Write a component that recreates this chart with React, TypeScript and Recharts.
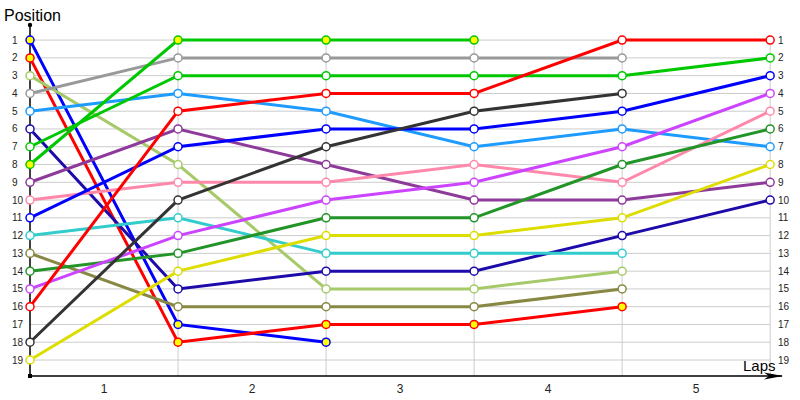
import { LineChart, Line, XAxis, YAxis, ReferenceLine } from "recharts";

// lap index (0 = grid)
const lapNumbers = [0, 1, 2, 3, 4, 5];
const lapTicks = [0.5, 1.5, 2.5, 3.5, 4.5];
const lapTickLabels = ["1", "2", "3", "4", "5"];
const positionTicks = [1, 2, 3, 4, 5, 6, 7, 8, 9, 10, 11, 12, 13, 14, 15, 16, 17, 18, 19];

// position per lap for each car (array ends where the car stops)
const blueEarly = [1, 17, 18];
const redEarly = [2, 18, 17, 17, 16];
const lightGreen = [3, 8, 15, 15, 14];
const gray = [4, 2, 2, 2, 2];
const skyBlue = [5, 4, 5, 7, 6, 7];
const navy = [6, 15, 14, 14, 12, 10];
const green = [7, 3, 3, 3, 3, 2];
const greenLeader = [8, 1, 1, 1];
const purple = [9, 6, 8, 10, 10, 9];
const pink = [10, 9, 9, 8, 9, 5];
const blue = [11, 7, 6, 6, 5, 3];
const cyan = [12, 11, 13, 13, 13];
const olive = [13, 16, 16, 16, 15];
const forest = [14, 13, 11, 11, 8, 6];
const violet = [15, 12, 10, 9, 7, 4];
const red = [16, 5, 4, 4, 1, 1];
const charcoal = [18, 10, 7, 5, 4];
const yellow = [19, 14, 12, 12, 11, 8];

// laps where the marker is filled yellow
const blueEarlyMarked = [0, 1, 2];
const redEarlyMarked = [0, 1, 2, 3, 4];
const greenLeaderMarked = [0, 1, 2, 3];

const series = [
  { key: "blueEarly", color: "#0000ff", values: blueEarly, marked: blueEarlyMarked },
  { key: "redEarly", color: "#ff0000", values: redEarly, marked: redEarlyMarked },
  { key: "lightGreen", color: "#a6ca6a", values: lightGreen, marked: [] },
  { key: "gray", color: "#999999", values: gray, marked: [] },
  { key: "skyBlue", color: "#1e9bff", values: skyBlue, marked: [] },
  { key: "navy", color: "#1c0aaa", values: navy, marked: [] },
  { key: "green", color: "#00c800", values: green, marked: [] },
  { key: "greenLeader", color: "#00c800", values: greenLeader, marked: greenLeaderMarked },
  { key: "purple", color: "#8e3a9a", values: purple, marked: [] },
  { key: "pink", color: "#ff88aa", values: pink, marked: [] },
  { key: "blue", color: "#0000ff", values: blue, marked: [] },
  { key: "cyan", color: "#33cccc", values: cyan, marked: [] },
  { key: "olive", color: "#888844", values: olive, marked: [] },
  { key: "forest", color: "#229428", values: forest, marked: [] },
  { key: "violet", color: "#cc44ff", values: violet, marked: [] },
  { key: "red", color: "#ff0000", values: red, marked: [] },
  { key: "charcoal", color: "#333333", values: charcoal, marked: [] },
  { key: "yellow", color: "#dddd00", values: yellow, marked: [] },
];

const data = lapNumbers.map((lap, i) => {
  const row: Record<string, number | undefined> = { lap };
  series.forEach((s) => {
    row[s.key] = s.values[i];
  });
  return row;
});

const FONT = "'Liberation Sans', Arial, sans-serif";

const makeDot = (s: (typeof series)[number]) => (props: any) => {
  const { cx, cy, index, value } = props;
  if (cx == null || cy == null || value == null) return <g key={`${s.key}-e-${index}`} />;
  return (
    <circle
      key={`${s.key}-${index}`}
      cx={cx}
      cy={cy}
      r={4}
      fill={s.marked.includes(index) ? "#ffff00" : "#ffffff"}
      stroke={s.color}
      strokeWidth={1.5}
    />
  );
};

const LeftTick = ({ x, y, payload }: any) => (
  <text x={x - 18} y={y} dy={3.5} textAnchor="start" fontSize={10} fontFamily={FONT} fill="#222">
    {payload.value}
  </text>
);

const RightTick = ({ x, y, payload }: any) => (
  <text x={x - 4} y={y} dy={3.5} textAnchor="start" fontSize={10} fontFamily={FONT} fill="#222">
    {payload.value}
  </text>
);

const LapTick = ({ x, y, payload, index }: any) => (
  <text x={x} y={y} dy={17} textAnchor="middle" fontSize={12} fontFamily={FONT} fill="#222">
    {lapTickLabels[index] ?? payload.value}
  </text>
);

export default function App() {
  return (
    <div style={{ position: "absolute", left: 0, top: 0, width: 800, height: 400, background: "#fff" }}>
      <LineChart width={800} height={400} data={data} margin={{ top: 25, right: 0, bottom: 0, left: 0 }}>
        <XAxis
          dataKey="lap"
          type="number"
          domain={[0, 5.08]}
          ticks={lapTicks}
          interval={0}
          tick={<LapTick />}
          tickLine={false}
          tickSize={0}
          tickMargin={0}
          height={24}
          axisLine={{ stroke: "#000", strokeWidth: 1.5 }}
        />
        <YAxis
          yAxisId="left"
          type="number"
          domain={[0.15, 19.9]}
          reversed
          ticks={positionTicks}
          interval={0}
          tick={<LeftTick />}
          tickLine={false}
          tickSize={0}
          tickMargin={0}
          width={30}
          axisLine={{ stroke: "#000", strokeWidth: 1.5 }}
        />
        <YAxis
          yAxisId="right"
          orientation="right"
          type="number"
          domain={[0.15, 19.9]}
          allowDataOverflow
          reversed
          ticks={positionTicks}
          interval={0}
          tick={<RightTick />}
          tickLine={false}
          tickSize={0}
          tickMargin={0}
          width={18}
          axisLine={false}
        />
        {positionTicks.map((p) => (
          <ReferenceLine
            key={`h${p}`}
            yAxisId="left"
            segment={[
              { x: 0, y: p },
              { x: 5, y: p },
            ]}
            stroke="#cccccc"
            strokeWidth={1}
          />
        ))}
        {lapNumbers.slice(1).map((l) => (
          <ReferenceLine
            key={`v${l}`}
            yAxisId="left"
            segment={[
              { x: l, y: 0.77 },
              { x: l, y: 19.9 },
            ]}
            stroke="#cccccc"
            strokeWidth={1}
          />
        ))}
        {series.map((s) => (
          <Line
            key={s.key}
            yAxisId="left"
            type="linear"
            dataKey={s.key}
            stroke={s.color}
            strokeWidth={3}
            dot={makeDot(s)}
            activeDot={false}
            isAnimationActive={false}
          />
        ))}
      </LineChart>
      <svg
        width={800}
        height={400}
        style={{ position: "absolute", left: 0, top: 0, pointerEvents: "none" }}
      >
        <text x={4} y={21} fontSize={16} fontFamily={FONT} fill="#000">
          Position
        </text>
        <text x={743} y={371} fontSize={15} fontFamily={FONT} fill="#000">
          Laps
        </text>
        <circle cx={30} cy={25} r={2.2} fill="#000" />
        <rect x={28} y={374} width={4} height={4} fill="#000" />
        <polygon points="764,372.5 783,376 764,379.5 769,376" fill="#000" />
      </svg>
    </div>
  );
}
